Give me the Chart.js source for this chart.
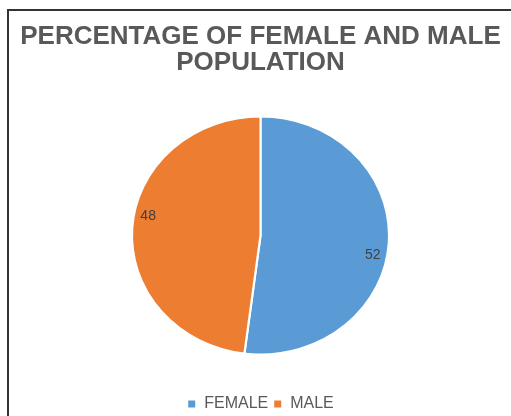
<!DOCTYPE html>
<html>
<head>
<meta charset="utf-8">
<script src="https://cdn.jsdelivr.net/npm/chart.js@4"></script>
<style>
  html, body { margin: 0; padding: 0; background: #fff; }
  #wrap { position: relative; width: 511px; height: 416px; }
  #frame {
    position: absolute; left: 7px; top: 9px; right: 0; bottom: 0;
    border-left: 2px solid #333; border-top: 2px solid #333;
    pointer-events: none;
  }
</style>
</head>
<body>
<div id="wrap">
  <canvas id="chart" width="511" height="416"></canvas>
  <div id="frame"></div>
</div>
<script>
const categories = ["FEMALE", "MALE"];
const percentages = [52, 48];
const titleLines = ["PERCENTAGE OF FEMALE AND MALE", "POPULATION"];
const sliceColors = ["#5B9BD5", "#ED7D31"];

const stretchX = 1.08; // the reference pie is a little wider than tall

const stretchPlugin = {
  id: "stretch",
  beforeDatasetsDraw(chart) {
    const arc = chart.getDatasetMeta(0).data[0];
    const ctx = chart.ctx;
    ctx.save();
    ctx.translate(arc.x, arc.y);
    ctx.scale(stretchX, 1);
    ctx.translate(-arc.x, -arc.y);
  },
  afterDatasetsDraw(chart) {
    chart.ctx.restore();
  },
};

const labelPlugin = {
  id: "sliceLabels",
  afterDraw(chart) {
    const ctx = chart.ctx;
    const meta = chart.getDatasetMeta(0);
    ctx.save();
    ctx.font = "14px 'Liberation Sans', Arial, sans-serif";
    ctx.fillStyle = "#404040";
    ctx.textAlign = "center";
    ctx.textBaseline = "middle";
    meta.data.forEach((arc, i) => {
      const mid = (arc.startAngle + arc.endAngle) / 2 + 0.125;
      const r = arc.outerRadius * 0.89;
      const x = arc.x + Math.cos(mid) * r * stretchX;
      const y = arc.y + Math.sin(mid) * r;
      ctx.fillText(String(percentages[i]), x, y);
    });
    ctx.restore();
  },
};

new Chart(document.getElementById("chart"), {
  type: "pie",
  data: {
    labels: categories,
    datasets: [
      {
        data: percentages,
        backgroundColor: sliceColors,
        borderColor: "#ffffff",
        borderWidth: 2,
        radius: 119,
      },
    ],
  },
  options: {
    responsive: false,
    animation: false,
    layout: { padding: { top: 0, bottom: -6, left: 10, right: 0 } },
    plugins: {
      title: {
        display: true,
        text: titleLines,
        color: "#595959",
        font: { family: "'Liberation Sans', Arial, sans-serif", size: 26, weight: "bold", lineHeight: 1.0 },
        padding: { top: 24, bottom: 4 },
      },
      legend: {
        position: "bottom",
        labels: {
          color: "#595959",
          font: { family: "'Liberation Sans', Arial, sans-serif", size: 16 },
          boxWidth: 9,
          boxHeight: 9,
          padding: 5,
        },
      },
      tooltip: { enabled: false },
    },
  },
  plugins: [stretchPlugin, labelPlugin],
});
</script>
</body>
</html>
